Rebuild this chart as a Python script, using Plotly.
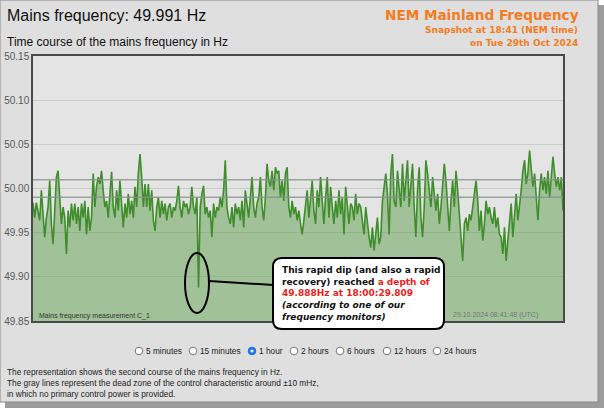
import plotly.graph_objects as go
import pandas as pd

# ---------------- data (Hz) ----------------
FREQ_PART1 = [
    49.984, 49.967, 49.984, 49.975, 49.964, 49.998, 49.964, 49.945, 49.967, 49.979,
    50.009, 49.960, 49.937, 49.971, 50.013, 50.020, 49.994, 49.960, 49.979, 49.967,
    49.926, 49.975, 49.956, 49.983, 49.964, 49.983, 49.960, 49.979, 49.952, 49.983,
    49.967, 49.986, 49.948, 49.979, 49.952, 49.967, 50.017, 49.979, 50.002, 50.013,
    50.005, 50.020, 49.998, 49.979, 49.986, 49.967, 49.994, 50.019, 49.979, 49.967,
    49.998, 49.975, 50.009, 49.979, 49.956, 49.983, 49.967, 49.994, 49.971, 49.986,
    49.967, 50.002, 49.979, 50.017, 50.039, 50.013, 49.979, 50.005, 49.979, 50.005,
    49.975, 49.998, 49.964, 49.952, 49.979, 49.990, 49.967, 49.986, 49.971, 49.983,
    49.964, 49.979, 49.983, 49.967, 49.979, 49.975, 49.986, 50.003, 49.979, 49.967,
    49.986, 49.979, 49.983, 49.971, 49.979, 50.002, 49.979, 49.971, 49.990, 49.888,
    49.979, 49.994, 50.003, 49.971, 49.979, 49.967, 49.975,
]
FREQ_PART2 = [
    49.945, 49.983, 49.967, 49.979, 49.975, 49.990, 49.979, 49.998, 50.032, 49.979,
    49.967, 49.960, 49.979, 49.956, 49.983, 49.971, 49.979, 49.964, 49.986, 49.956,
    49.998, 49.979, 49.967, 49.990, 50.013, 49.979, 49.967, 49.983, 49.990, 50.013,
    49.979, 49.964, 49.990, 50.028, 50.009, 50.002, 50.020, 49.998, 50.024, 50.017,
    50.020, 49.990, 50.009, 49.986, 50.017, 50.024, 49.979, 49.967, 49.986, 49.971,
    49.979, 49.964, 49.975, 49.960, 49.948, 49.964, 49.979, 49.998, 49.967, 49.986,
    50.009, 49.975, 49.960, 49.998, 49.979, 50.013, 49.983, 49.960, 49.990, 50.013,
    49.967, 50.002, 49.979, 49.960, 49.986, 49.967, 49.998, 49.971, 49.990, 49.948,
    50.002, 49.979, 49.960, 49.983, 49.979, 49.964, 49.994, 49.971, 49.983, 49.979,
    49.964, 49.948, 49.979, 49.960, 49.945, 49.933, 49.956, 49.930, 49.948, 49.967,
    49.937, 49.945, 49.986, 50.005, 50.017, 49.994,
]
FREQ_PART3 = [
    49.948, 50.017, 50.039, 49.986, 49.979, 50.020, 50.002, 49.979, 50.028, 49.986,
    50.009, 50.032, 49.979, 50.009, 50.028, 49.979, 49.945, 49.998, 50.024, 49.967,
    49.945, 49.979, 50.032, 50.017, 49.998, 49.979, 50.013, 49.990, 49.975, 49.994,
    49.960, 49.979, 50.009, 50.028, 50.009, 49.979, 49.952, 49.986, 50.009, 49.979,
    50.020, 49.998, 49.967, 49.948, 49.918, 49.960, 49.967, 49.952, 49.971, 49.964,
    49.979, 49.994, 50.009, 49.986, 49.952, 49.975, 49.941, 49.960, 49.986, 49.971,
    49.979, 49.967, 49.960, 49.979, 49.956, 49.967, 49.948, 49.945, 49.926, 49.956,
    49.918, 49.941, 49.960, 49.983, 49.945, 49.971, 49.994, 49.964, 49.979, 49.998,
    50.020, 50.032, 50.005, 50.017, 50.043, 50.024, 50.002, 50.017, 49.990, 49.964,
    49.998, 50.017, 49.998, 50.013, 49.994, 50.020, 49.990, 50.013, 50.036, 50.017,
    50.002, 50.013, 49.998, 50.013, 49.975,
]
FREQ = FREQ_PART1 + FREQ_PART2 + FREQ_PART3
START_TIME = "2024-10-29 17:41:00"
END_TIME = "2024-10-29 18:41:00"
Y_RANGE = [49.85, 50.15]
Y_TICKS = [49.85, 49.90, 49.95, 50.00, 50.05, 50.10, 50.15]
DEAD_ZONE = [50.01, 49.99]
RADIO_LABELS = ["5 minutes", "15 minutes", "1 hour", "2 hours", "6 hours", "12 hours", "24 hours"]
RADIO_SELECTED = "1 hour"
FOOTER = [
    "The representation shows the second course of the mains frequency in Hz.",
    "The gray lines represent the dead zone of the control characteristic around \u00b110 mHz,",
    "in which no primary control power is provided.",
]

times = pd.date_range(START_TIME, END_TIME, periods=len(FREQ))

# ---------------- geometry helpers (pixel -> paper) ----------------
W, H = 604, 408
PL, PR, PT, PB = 33, 563, 56, 321


def X(px):
    return (px - PL) / (PR - PL)


def Y(py):
    return (PB - py) / (PB - PT)


fig = go.Figure()
fig.add_trace(go.Scatter(
    x=times, y=FREQ, mode="lines",
    line=dict(color="#3f8d2b", width=1.6),
    fill="tozeroy", fillcolor="rgba(70,145,50,0.42)",
    hoverinfo="skip", showlegend=False,
))

shapes = []
# screenshot frame and shadow
shapes.append(dict(type="rect", xref="paper", yref="paper", layer="below",
                   x0=X(5), x1=X(604), y0=Y(408), y1=Y(5),
                   fillcolor="#9c9c9c", line=dict(width=0)))
shapes.append(dict(type="rect", xref="paper", yref="paper", layer="below",
                   x0=X(0), x1=X(598), y0=Y(402), y1=Y(0),
                   fillcolor="#dfdfdf", line=dict(color="#8a8a8a", width=1)))
shapes.append(dict(type="rect", xref="paper", yref="paper", layer="below",
                   x0=0, x1=1, y0=0, y1=1,
                   fillcolor="#e4e4e4", line=dict(width=0)))
# dead zone lines
for v in DEAD_ZONE:
    shapes.append(dict(type="line", xref="paper", yref="y", layer="above",
                       x0=0, x1=1, y0=v, y1=v,
                       line=dict(color="rgba(135,145,140,0.8)", width=1.5)))

# ellipse around the dip
shapes.append(dict(type="circle", xref="paper", yref="paper",
                   x0=X(185), x1=X(209), y0=Y(313), y1=Y(253),
                   line=dict(color="black", width=2)))
shapes.append(dict(type="line", xref="paper", yref="paper",
                   x0=X(209), x1=X(274), y0=Y(281), y1=Y(285),
                   line=dict(color="black", width=2)))

# rounded callout box
bx0, bx1, by0, by1, r = 273, 444, 258, 329, 9
pts = [
    ("M", bx0 + r, by0), ("L", bx1 - r, by0), ("Q", bx1, by0, bx1, by0 + r),
    ("L", bx1, by1 - r), ("Q", bx1, by1, bx1 - r, by1), ("L", bx0 + r, by1),
    ("Q", bx0, by1, bx0, by1 - r), ("L", bx0, by0 + r), ("Q", bx0, by0, bx0 + r, by0),
]
path = ""
for p in pts:
    cmd = p[0]
    coords = p[1:]
    s = " ".join(f"{X(coords[i]):.5f},{Y(coords[i + 1]):.5f}" for i in range(0, len(coords), 2))
    path += f"{cmd}{s} "
path += "Z"
shapes.append(dict(type="path", xref="paper", yref="paper", path=path,
                   fillcolor="white", line=dict(color="black", width=2)))

# radio buttons
radio_cx = [139, 193, 252, 294, 340, 387, 437]
radio_cy = 351
annotations = []
for cx, lab in zip(radio_cx, RADIO_LABELS):
    sel = lab == RADIO_SELECTED
    shapes.append(dict(type="circle", xref="paper", yref="paper",
                       x0=X(cx - 3.8), x1=X(cx + 3.8), y0=Y(radio_cy + 3.8), y1=Y(radio_cy - 3.8),
                       fillcolor="#1a73e8" if sel else "white",
                       line=dict(color="#1a73e8" if sel else "#767676", width=1)))
    if sel:
        shapes.append(dict(type="circle", xref="paper", yref="paper",
                           x0=X(cx - 1.6), x1=X(cx + 1.6), y0=Y(radio_cy + 1.6), y1=Y(radio_cy - 1.6),
                           fillcolor="white", line=dict(width=0)))
    annotations.append(dict(xref="paper", yref="paper", x=X(cx + 5), y=Y(radio_cy),
                            xanchor="left", yanchor="middle", showarrow=False,
                            text=lab, font=dict(family="Arial", size=8.3, color="#222")))

# titles
annotations.append(dict(xref="paper", yref="paper", x=X(5), y=Y(15), xanchor="left", yanchor="middle",
                        showarrow=False, text="Mains frequency: 49.991 Hz",
                        font=dict(family="Arial", size=16, color="#111")))
annotations.append(dict(xref="paper", yref="paper", x=X(5), y=Y(42), xanchor="left", yanchor="middle",
                        showarrow=False, text="Time course of the mains frequency in Hz",
                        font=dict(family="Arial", size=12, color="#111")))
annotations.append(dict(xref="paper", yref="paper", x=X(581), y=Y(15), xanchor="right", yanchor="middle",
                        showarrow=False, text="<b>NEM Mainland Frequency</b>",
                        font=dict(family="DejaVu Sans", size=13.6, color="#f47c20")))
annotations.append(dict(xref="paper", yref="paper", x=X(580), y=Y(30), xanchor="right", yanchor="middle",
                        showarrow=False, text="<b>Snapshot at 18:41 (NEM time)</b>",
                        font=dict(family="DejaVu Sans", size=9, color="#f47c20")))
annotations.append(dict(xref="paper", yref="paper", x=X(580), y=Y(43), xanchor="right", yanchor="middle",
                        showarrow=False, text="<b>on Tue 29th Oct 2024</b>",
                        font=dict(family="DejaVu Sans", size=9, color="#f47c20")))

# in-plot small labels
annotations.append(dict(xref="paper", yref="paper", x=X(37), y=Y(316), xanchor="left", yanchor="middle",
                        showarrow=False, text="Mains frequency measurement C_1",
                        font=dict(family="Arial", size=7, color="#333")))
annotations.append(dict(xref="paper", yref="paper", x=X(540), y=Y(315), xanchor="right", yanchor="middle",
                        showarrow=False, text="29.10.2024 08:41:48 (UTC)",
                        font=dict(family="Arial", size=7, color="#777")))

# callout text
callout = ("<b>This rapid dip (and also a rapid<br>"
           "recovery) reached <span style='color:#ee1c1c'>a depth of</span><br>"
           "<span style='color:#ee1c1c'>49.888Hz at 18:00:29.809</span><br>"
           "<i>(according to one of our</i><br>"
           "<i>frequency monitors)</i></b>")
annotations.append(dict(xref="paper", yref="paper", x=X(280), y=Y(263), xanchor="left", yanchor="top",
                        showarrow=False, align="left", text=callout,
                        font=dict(family="DejaVu Sans", size=9, color="#111")))

# footer
for i, line in enumerate(FOOTER):
    annotations.append(dict(xref="paper", yref="paper", x=X(5), y=Y(372 + 11 * i),
                            xanchor="left", yanchor="middle", showarrow=False, text=line,
                            font=dict(family="Arial", size=8.3, color="#222")))

fig.update_layout(
    width=W, height=H, autosize=False,
    margin=dict(l=PL, r=W - PR, t=PT, b=H - PB, pad=0),
    paper_bgcolor="white", plot_bgcolor="rgba(0,0,0,0)",
    shapes=shapes, annotations=annotations, showlegend=False,
)
fig.update_xaxes(range=[times[0], times[-1]], showgrid=False, showticklabels=False,
                 showline=True, mirror=True, linecolor="#4a4a4a", linewidth=1.5,
                 zeroline=False, ticks="", automargin=False)
fig.update_yaxes(range=Y_RANGE, tickvals=Y_TICKS, tickformat=".2f", automargin=False,
                 showgrid=True, gridcolor="#cbcbcb", gridwidth=1,
                 showline=True, mirror=True, linecolor="#4a4a4a", linewidth=1.5,
                 zeroline=False, ticks="", ticklabelstandoff=0,
                 tickfont=dict(family="Arial", size=10, color="#5a5a5a"))

fig.write_html("out.html")
